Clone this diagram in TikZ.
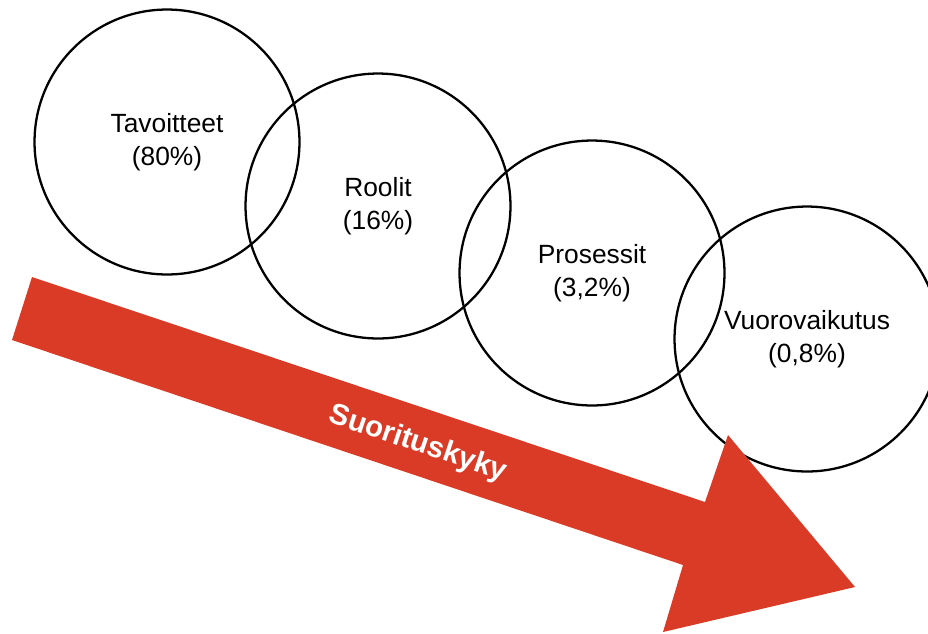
\documentclass[tikz,border=0pt]{standalone}
\usepackage{fontspec}
\setmainfont{Liberation Sans}
\usepackage{tikz}

\definecolor{arrowred}{RGB}{217,59,38}

\tikzset{
  ring/.style={draw=black, line width=1.3pt, circle, minimum size=5.3cm, align=center,
    font=\fontsize{15}{18.5}\selectfont},
}

\begin{document}
\begin{tikzpicture}[x=0.02cm, y=-0.02cm]
\useasboundingbox (0,0) rectangle (928,633);

\node[ring] (goals) at (167,142) {Tavoitteet\\(80\%)};
\node[ring] (roles) at (378,206) {Roolit\\(16\%)};
\node[ring] (process) at (592,273) {Prosessit\\(3,2\%)};
\node[ring] (interact) at (807,339) {Vuorovaikutus\\(0,8\%)};

% big arrow
\fill[arrowred] (32,277) -- (705,502) -- (728,435) -- (855,587) -- (663,632) -- (683,565) -- (12,340) -- cycle;
\node[rotate=-18.5, text=white, font=\fontsize{16.8}{20}\selectfont\bfseries] (perf) at (418,444) {Suorituskyky};
\end{tikzpicture}
\end{document}
